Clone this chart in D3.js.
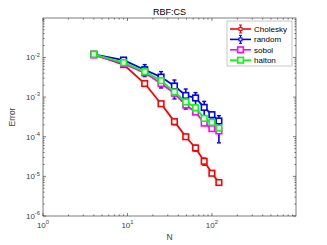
<!DOCTYPE html>
<html><head><meta charset="utf-8">
<script src="https://cdn.jsdelivr.net/npm/d3@7"></script>
<style>body{margin:0;background:#fff}svg{display:block;font-family:"Liberation Sans",Arial,sans-serif}</style>
</head><body><svg id="c" width="327" height="245"></svg>
<script>
const N = [4, 9, 16, 25, 36, 49, 64, 81, 100, 121];
const cholesky = [1.2e-2, 6.6e-3, 2.2e-3, 6.8e-4, 2.4e-4, 1.0e-4, 5.2e-5, 2.4e-5, 1.2e-5, 7.0e-6];
const cholLo = [1.17e-2, 6.3e-3, 2.05e-3, 6.2e-4, 2.0e-4, 9.2e-5, 4.3e-5, 1.9e-5, 1.1e-5, 6.7e-6];
const cholHi = [1.23e-2, 6.9e-3, 2.35e-3, 7.4e-4, 2.8e-4, 1.08e-4, 6.1e-5, 2.9e-5, 1.3e-5, 7.3e-6];
const random = [1.2e-2, 8.6e-3, 4.9e-3, 3.2e-3, 1.9e-3, 1.1e-3, 9.5e-4, 5.5e-4, 3.6e-4, 2.5e-4];
const randLo = [1.1e-2, 7.6e-3, 3.3e-3, 1.7e-3, 9.0e-4, 5.0e-4, 4.5e-4, 2.8e-4, 3.0e-4, 7.0e-5];
const randHi = [1.3e-2, 9.8e-3, 6.6e-3, 4.4e-3, 2.7e-3, 1.6e-3, 1.3e-3, 7.8e-4, 4.1e-4, 3.4e-4];
const sobol = [1.15e-2, 7.0e-3, 4.1e-3, 2.2e-3, 1.25e-3, 6.3e-4, 4.2e-4, 2.2e-4, 1.6e-4, 1.4e-4];
const halton = [1.2e-2, 7.4e-3, 4.4e-3, 2.6e-3, 1.35e-3, 7.6e-4, 5.4e-4, 2.9e-4, 2.3e-4, 1.65e-4];
const seriesNames = ["Cholesky", "random", "sobol", "halton"];
const seriesColors = ["#ff0000", "#0000ff", "#ff00ff", "#00ff00"];
const xTickExps = [0, 1, 2];
const yTickExps = [-6, -5, -4, -3, -2];
const titleText = "RBF:CS", xLabel = "N", yLabel = "Error";

const svg = d3.select("#c");
const L = 43, R = 296, T = 18, B = 216;
const x = d3.scaleLog().domain([1, 990]).range([L, R]);
const y = d3.scaleLog().domain([1e-6, 0.099]).range([B, T]);
const axisCol = "#262626", tickTxt = "#404040";

const g = svg.append("g");
function xt(v, len) {
  g.append("line").attr("x1", x(v)).attr("x2", x(v)).attr("y1", B).attr("y2", B - len).attr("stroke", axisCol).attr("stroke-width", 0.6);
  g.append("line").attr("x1", x(v)).attr("x2", x(v)).attr("y1", T).attr("y2", T + len).attr("stroke", axisCol).attr("stroke-width", 0.6);
}
function yt(v, len) {
  g.append("line").attr("y1", y(v)).attr("y2", y(v)).attr("x1", L).attr("x2", L + len).attr("stroke", axisCol).attr("stroke-width", 0.6);
  g.append("line").attr("y1", y(v)).attr("y2", y(v)).attr("x1", R).attr("x2", R - len).attr("stroke", axisCol).attr("stroke-width", 0.6);
}
x.ticks().forEach(v => { const e = Math.log10(v); xt(v, Math.abs(e - Math.round(e)) < 1e-9 ? 3 : 1.6); });
y.ticks().forEach(v => { const e = Math.log10(v); yt(v, Math.abs(e - Math.round(e)) < 1e-9 ? 3 : 1.6); });

svg.append("rect").attr("x", L).attr("y", T).attr("width", R - L).attr("height", B - T)
  .attr("fill", "none").attr("stroke", axisCol).attr("stroke-width", 0.6);

xTickExps.forEach(e => {
  const t = svg.append("text").attr("x", x(Math.pow(10, e))).attr("y", B + 12).attr("text-anchor", "middle")
    .attr("font-size", 8).attr("fill", tickTxt);
  t.append("tspan").text("10");
  t.append("tspan").attr("dy", -3.6).attr("font-size", 5.8).text(e);
});
yTickExps.forEach(e => {
  const t = svg.append("text").attr("x", L - 3).attr("y", y(Math.pow(10, e)) + 3).attr("text-anchor", "end")
    .attr("font-size", 8).attr("fill", tickTxt);
  t.append("tspan").text("10");
  t.append("tspan").attr("dy", -3.6).attr("font-size", 5.8).text(e);
});

svg.append("text").attr("x", (L + R) / 2).attr("y", 15).attr("text-anchor", "middle").attr("font-size", 9).attr("fill", "#000").text(titleText);
svg.append("text").attr("x", (L + R) / 2).attr("y", 240).attr("text-anchor", "middle").attr("font-size", 8.5).attr("fill", tickTxt).text(xLabel);
svg.append("text").attr("transform", `translate(15,${(T + B) / 2}) rotate(-90)`).attr("text-anchor", "middle").attr("font-size", 8.5).attr("fill", tickTxt).text(yLabel);

const plot = svg.append("g");
const line = d3.line().x(d => x(d[0])).y(d => y(d[1]));
function drawSeries(vals, color, lo, hi) {
  const pts = N.map((n, i) => [n, vals[i]]);
  plot.append("path").datum(pts).attr("d", line).attr("fill", "none").attr("stroke", color).attr("stroke-width", 1.8);
  if (lo) {
    N.forEach((n, i) => {
      const cx = x(n);
      plot.append("line").attr("x1", cx).attr("x2", cx).attr("y1", y(lo[i])).attr("y2", y(hi[i])).attr("stroke", color).attr("stroke-width", 1.6);
      [lo[i], hi[i]].forEach(v => plot.append("line").attr("x1", cx - 2).attr("x2", cx + 2).attr("y1", y(v)).attr("y2", y(v)).attr("stroke", color).attr("stroke-width", 1.4));
    });
  }
  pts.forEach(p => plot.append("rect").attr("x", x(p[0]) - 2.8).attr("y", y(p[1]) - 2.8).attr("width", 5.6).attr("height", 5.6)
    .attr("fill", "#fff").attr("stroke", color).attr("stroke-width", 1.6));
}
drawSeries(cholesky, seriesColors[0], cholLo, cholHi);
drawSeries(random, seriesColors[1], randLo, randHi);
drawSeries(sobol, seriesColors[2]);
drawSeries(halton, seriesColors[3]);

const lg = svg.append("g");
lg.append("rect").attr("x", 227).attr("y", 21).attr("width", 65).attr("height", 45).attr("fill", "#fff").attr("stroke", "#a0a0a0").attr("stroke-width", 0.6);
seriesNames.forEach((name, i) => {
  const ly = 29 + i * 10.4, c = seriesColors[i];
  lg.append("line").attr("x1", 230).attr("x2", 251).attr("y1", ly).attr("y2", ly).attr("stroke", c).attr("stroke-width", 1.6);
  if (i < 2) {
    lg.append("line").attr("x1", 240.5).attr("x2", 240.5).attr("y1", ly - 4).attr("y2", ly + 4).attr("stroke", c).attr("stroke-width", 1.2);
    [ly - 4, ly + 4].forEach(v => lg.append("line").attr("x1", 239).attr("x2", 242).attr("y1", v).attr("y2", v).attr("stroke", c).attr("stroke-width", 1));
    lg.append("rect").attr("x", 239).attr("y", ly - 1.5).attr("width", 3).attr("height", 3).attr("fill", "#fff").attr("stroke", c).attr("stroke-width", 1);
  } else {
    lg.append("rect").attr("x", 237.7).attr("y", ly - 2.8).attr("width", 5.6).attr("height", 5.6).attr("fill", "#fff").attr("stroke", c).attr("stroke-width", 1.6);
  }
  lg.append("text").attr("x", 254).attr("y", ly + 3).attr("font-size", 8).attr("fill", "#000").text(name);
});
</script></body></html>
